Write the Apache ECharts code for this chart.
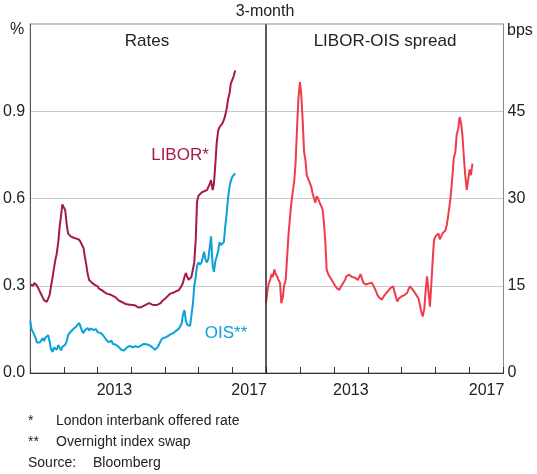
<!DOCTYPE html>
<html>
<head>
<meta charset="utf-8">
<script src="https://cdn.jsdelivr.net/npm/echarts@6/dist/echarts.min.js"></script>
<style>
html,body{margin:0;padding:0;background:#fff;}
#c{width:537px;height:474px;}
</style>
</head>
<body>
<div id="c"></div>
<script>
// Semi-monthly observations, 2011-01-01 .. 2017-02-01
var years = ['2011','2012','2013','2014','2015','2016','2017'];
var shownYears = ['2013','2017'];

var libor = [
0.305,0.31,0.30,0.31,0.31,0.30,0.29,0.28,0.27,0.26,0.25,0.245,0.245,0.25,0.27,0.30,
0.33,0.36,0.39,0.41,0.45,0.50,0.54,0.58,0.575,0.56,0.51,0.48,0.475,0.47,0.467,0.465,
0.465,0.462,0.46,0.458,0.45,0.44,0.43,0.40,0.37,0.34,0.32,0.314,0.31,0.308,0.303,0.30,
0.298,0.29,0.287,0.285,0.28,0.278,0.275,0.272,0.271,0.27,0.268,0.265,0.262,0.26,0.255,0.25,
0.248,0.245,0.243,0.24,0.238,0.236,0.234,0.235,0.236,0.234,0.234,0.232,0.228,0.225,0.223,0.226,
0.228,0.231,0.233,0.236,0.238,0.24,0.236,0.235,0.233,0.234,0.237,0.235,0.234,0.24,0.247,0.252,
0.255,0.26,0.265,0.27,0.273,0.275,0.276,0.279,0.281,0.283,0.285,0.29,0.30,0.31,0.33,0.344,
0.33,0.32,0.325,0.33,0.33,0.38,0.46,0.59,0.61,0.615,0.62,0.623,0.625,0.63,0.629,0.635,
0.65,0.663,0.629,0.65,0.72,0.79,0.835,0.845,0.85,0.858,0.87,0.885,0.91,0.94,0.96,0.995,
1.0,1.02,1.04
];

var ois = [
0.18,0.15,0.14,0.13,0.12,0.105,0.10,0.105,0.112,0.12,0.11,0.122,0.125,0.13,0.105,0.08,
0.073,0.088,0.09,0.08,0.096,0.088,0.078,0.09,0.084,0.097,0.11,0.13,0.128,0.142,0.14,0.152,
0.148,0.16,0.165,0.172,0.158,0.145,0.137,0.147,0.143,0.155,0.146,0.153,0.157,0.148,0.145,0.151,
0.14,0.146,0.138,0.142,0.13,0.126,0.115,0.112,0.106,0.105,0.111,0.10,0.104,0.098,0.095,0.09,
0.086,0.08,0.084,0.077,0.083,0.088,0.09,0.093,0.088,0.088,0.091,0.092,0.096,0.089,0.09,0.094,
0.097,0.10,0.094,0.099,0.10,0.096,0.092,0.089,0.084,0.08,0.079,0.09,0.10,0.11,0.118,0.12,
0.122,0.126,0.127,0.131,0.133,0.136,0.137,0.141,0.145,0.15,0.152,0.155,0.17,0.20,0.216,0.18,
0.165,0.159,0.162,0.165,0.24,0.30,0.33,0.37,0.38,0.372,0.38,0.383,0.417,0.39,0.38,0.392,
0.394,0.47,0.37,0.348,0.385,0.40,0.42,0.45,0.44,0.434,0.45,0.50,0.55,0.60,0.64,0.66,
0.675,0.68,0.686
];

var spread = [
12,14,15.5,16,17,16.5,17.8,17,16.6,16,15.5,12,13,15,16,19.5,
24,26.5,29.3,31,33,36,42,47,50,48,43,38,36.5,34,33.3,33,
32.1,31,30,29.3,30.4,30,29.3,28.8,28.1,26,22.4,17.8,17,16.6,16.2,15.8,
15.5,15,14.6,14.3,14.3,14.8,15.2,15.5,16,16.6,16.6,16.9,16.7,16.5,16.4,16.4,
16.2,16,16.5,17,17.2,15.5,15.3,15.2,15.3,15.4,15.6,15.5,15.5,14.6,14,13.4,
13,12.8,12.6,13,13.4,13.7,14,14.3,14.6,14.8,14.9,14,13,12.3,12.8,13,
13.2,13.3,13.4,13.4,13.8,14.4,14.9,14.6,14.3,14,13.6,13.2,12.8,12.6,10.5,9.7,
11,14,16.6,14.3,11.4,15,19.5,22.9,23.5,23.2,24,23,23.5,24,24,24.5,
25.5,27,29,31,34,37,38,41,42,44,43,41,37,34,31.5,33,
35,34,36
];

var dates = [];
(function(){
  for (var y = 2011; y <= 2017; y++) {
    for (var m = 1; m <= 12; m++) {
      var mm = (m < 10 ? '0' : '') + m;
      dates.push(y + '-' + mm + '-01');
      dates.push(y + '-' + mm + '-15');
    }
  }
})();

function pairs(vals) {
  return vals.map(function (v, i) { return [dates[i], v]; });
}

var FONT = '"Liberation Sans", Arial, Helvetica, sans-serif';
var TXT = '#222';
var LIBOR_C = '#a6194c';
var OIS_C = '#0aa0da';
var SPREAD_C = '#ef3b4a';

var chart = echarts.init(document.getElementById('c'), null, {renderer: 'canvas'});

function catAxis(gi) {
  return {
    type: 'category', gridIndex: gi, position: 'bottom', data: years, boundaryGap: true,
    axisLine: {show: true, lineStyle: {color: '#333', width: 1}},
    axisTick: {show: true, inside: true, length: 6, interval: 0, lineStyle: {color: '#333'}},
    axisLabel: {interval: 0, margin: 10, color: TXT, fontSize: 16, fontFamily: FONT,
      formatter: function (v) { return shownYears.indexOf(v) >= 0 ? v : ''; }},
    splitLine: {show: false}, z: 5
  };
}
function timeAxis(gi) {
  return {type: 'time', gridIndex: gi, position: 'bottom', min: '2011-01-01', max: '2018-01-01', show: false};
}

chart.setOption({
  animation: false,
  backgroundColor: '#fff',
  textStyle: {fontFamily: FONT},
  grid: [
    {left: 29, right: 271, top: 24, bottom: 101, show: true, borderColor: '#888', borderWidth: 1},
    {left: 266, right: 33.5, top: 24, bottom: 101, show: true, borderColor: '#888', borderWidth: 1}
  ],
  xAxis: [timeAxis(0), catAxis(0), timeAxis(1), catAxis(1)],
  yAxis: [
    {type: 'value', gridIndex: 0, min: 0, max: 1.2, interval: 0.3,
     axisLine: {show: true, lineStyle: {color: '#555'}}, axisTick: {show: false},
     splitLine: {show: true, lineStyle: {color: '#c8c8c8', width: 1}},
     axisLabel: {margin: 5, color: TXT, fontSize: 16, fontFamily: FONT,
       formatter: function (v) { return v > 1.1 ? '' : v.toFixed(1); }}},
    {type: 'value', gridIndex: 1, position: 'right', min: 0, max: 60, interval: 15,
     axisLine: {show: true, lineStyle: {color: '#888'}}, axisTick: {show: false},
     splitLine: {show: true, lineStyle: {color: '#c8c8c8', width: 1}},
     axisLabel: {margin: 4, color: TXT, fontSize: 16, fontFamily: FONT,
       formatter: function (v) { return v > 55 ? '' : String(v); }}}
  ],
  series: [
    {type: 'line', name: 'LIBOR', xAxisIndex: 0, yAxisIndex: 0, data: pairs(libor),
     showSymbol: false, lineStyle: {color: LIBOR_C, width: 2}, z: 3},
    {type: 'line', name: 'OIS', xAxisIndex: 0, yAxisIndex: 0, data: pairs(ois),
     showSymbol: false, lineStyle: {color: OIS_C, width: 2}, z: 3},
    {type: 'line', name: 'Spread', xAxisIndex: 2, yAxisIndex: 1, data: pairs(spread),
     showSymbol: false, lineStyle: {color: SPREAD_C, width: 2}, z: 3}
  ],
  graphic: [
    {type: 'line', shape: {x1: 266, y1: 24, x2: 266, y2: 373}, style: {stroke: '#111', lineWidth: 1}, z: 100},
    {type: 'text', x: 265, y: 12, style: {text: '3-month', fill: TXT, font: '16px ' + FONT, textAlign: 'center', textVerticalAlign: 'middle'}},
    {type: 'text', x: 17, y: 30, style: {text: '%', fill: TXT, font: '16px ' + FONT, textAlign: 'center', textVerticalAlign: 'middle'}},
    {type: 'text', x: 507, y: 31, style: {text: 'bps', fill: TXT, font: '16px ' + FONT, textAlign: 'left', textVerticalAlign: 'middle'}},
    {type: 'text', x: 147, y: 41, style: {text: 'Rates', fill: TXT, font: '17px ' + FONT, textAlign: 'center', textVerticalAlign: 'middle'}},
    {type: 'text', x: 385, y: 41, style: {text: 'LIBOR-OIS spread', fill: TXT, font: '17px ' + FONT, textAlign: 'center', textVerticalAlign: 'middle'}},
    {type: 'text', x: 180, y: 155, style: {text: 'LIBOR*', fill: LIBOR_C, font: '17px ' + FONT, textAlign: 'center', textVerticalAlign: 'middle'}},
    {type: 'text', x: 226, y: 333, style: {text: 'OIS**', fill: OIS_C, font: '17px ' + FONT, textAlign: 'center', textVerticalAlign: 'middle'}},
    {type: 'text', x: 28, y: 421, style: {text: '*', fill: TXT, font: '14px ' + FONT, textAlign: 'left', textVerticalAlign: 'middle'}},
    {type: 'text', x: 56, y: 421, style: {text: 'London interbank offered rate', fill: TXT, font: '14px ' + FONT, textAlign: 'left', textVerticalAlign: 'middle'}},
    {type: 'text', x: 28, y: 442, style: {text: '**', fill: TXT, font: '14px ' + FONT, textAlign: 'left', textVerticalAlign: 'middle'}},
    {type: 'text', x: 56, y: 442, style: {text: 'Overnight index swap', fill: TXT, font: '14px ' + FONT, textAlign: 'left', textVerticalAlign: 'middle'}},
    {type: 'text', x: 28, y: 463, style: {text: 'Source:', fill: TXT, font: '14px ' + FONT, textAlign: 'left', textVerticalAlign: 'middle'}},
    {type: 'text', x: 93, y: 463, style: {text: 'Bloomberg', fill: TXT, font: '14px ' + FONT, textAlign: 'left', textVerticalAlign: 'middle'}}
  ]
});
</script>
</body>
</html>
